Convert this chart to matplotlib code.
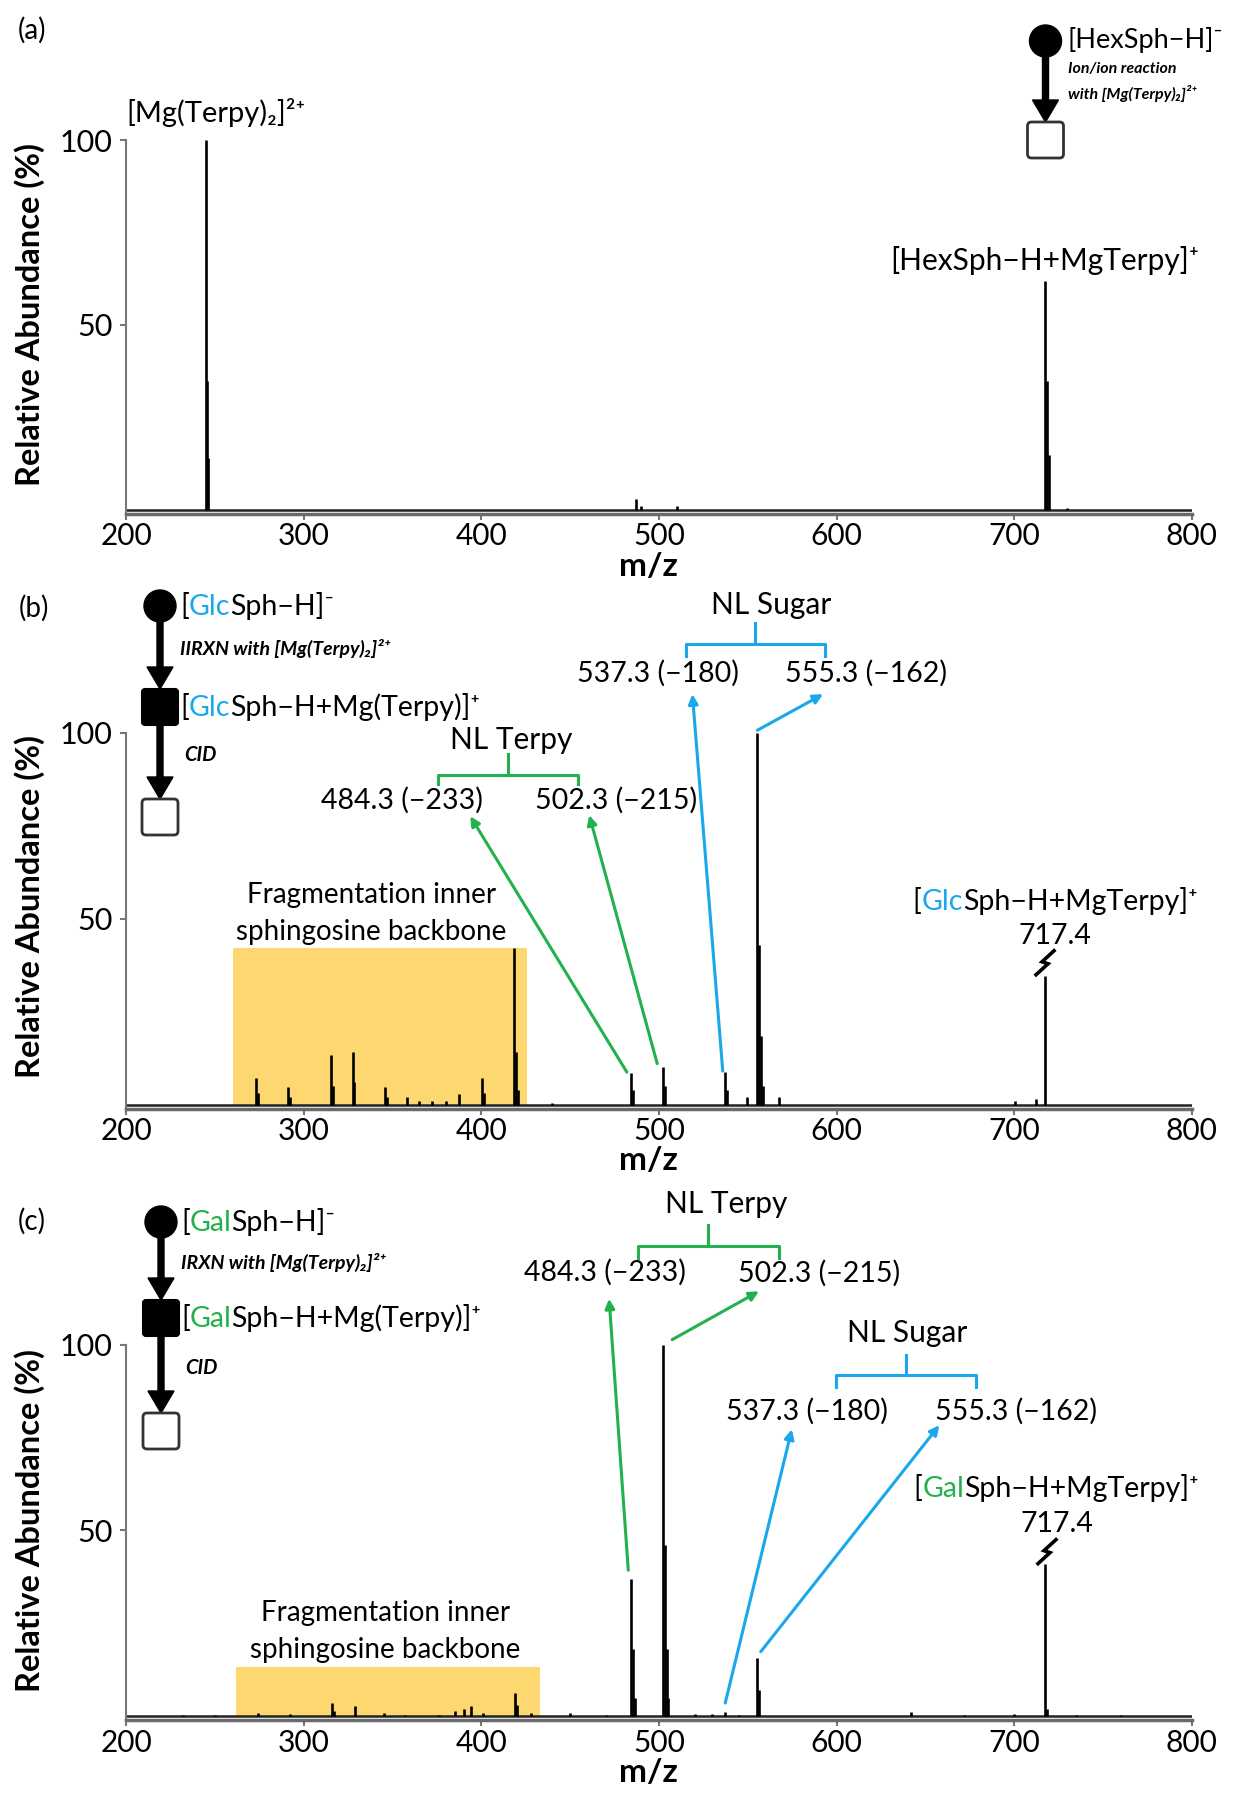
import matplotlib
matplotlib.use('Agg')
import matplotlib.pyplot as plt
from matplotlib.patches import Circle, FancyBboxPatch, FancyArrow, Rectangle
from matplotlib.transforms import IdentityTransform

plt.rcParams['font.family'] = ['Lato', 'DejaVu Sans']

BLUE = '#1AA7EC'
GREEN = '#22B14C'
GOLD = '#FDD870'

# (a) ion/ion reaction spectrum
a_mz = [245.0, 245.5, 246.0, 487.0, 490.0, 510.0, 717.4, 718.4, 719.4, 730.0]
a_int = [100, 35, 14, 3.0, 1.0, 1.2, 62, 35, 15, 0.5]

# (b) CID of [GlcSph-H+Mg(Terpy)]+
b_mz = [273.2, 274.2, 291.1, 292.1, 315.5, 316.5, 327.4, 328.4, 345.6, 346.6,
        358.0, 365.0, 372.0, 380.0, 387.6, 400.2, 401.2, 418.6, 419.6, 420.6,
        440.0, 484.3, 485.3, 502.3, 503.3, 537.3, 538.3, 549.3, 555.3, 556.3,
        557.3, 558.3, 567.3, 700.4, 712.4, 717.4]
b_int = [7.0, 3.0, 4.8, 2.0, 13.4, 5.0, 14.1, 6.0, 4.8, 2.0,
         2.0, 1.0, 1.0, 1.0, 2.8, 7.2, 3.0, 42.0, 14.0, 4.0,
         0.5, 8.5, 4.0, 10.0, 5.0, 8.8, 4.0, 2.0, 100, 43,
         18.5, 5.0, 2.0, 1.0, 1.5, 34.5]

# (c) CID of [GalSph-H+Mg(Terpy)]+
c_mz = [232, 250, 274, 292, 316, 317, 328.8, 345, 357, 376, 385, 390, 394, 401,
        419, 420, 428, 450, 470, 484.3, 485.3, 486.3, 502.3, 503.3, 504.3, 505.3,
        520, 530, 537.3, 545, 555.3, 556.3, 642, 672, 700, 717.4, 718.4, 735, 760]
c_int = [0.5, 0.5, 1.0, 0.6, 3.6, 1.5, 2.7, 0.8, 0.5, 0.5, 1.5, 2.0, 2.7, 1.0,
         6.4, 3.0, 1.0, 0.8, 0.5, 37, 18, 5, 100, 46, 18, 5,
         0.6, 0.6, 1.2, 0.5, 15.7, 7, 1.2, 0.5, 0.6, 41, 2, 0.5, 0.4]

x_ticks = [200, 300, 400, 500, 600, 700, 800]
y_ticks = [50, 100]

W, H = 1248, 1800
fig = plt.figure(figsize=(W / 100, H / 100), dpi=100)
renderer = fig.canvas.get_renderer()

X200, X800 = 126.3, 1191.7
PANELS = [(140.0, 510.0), (732.5, 1104.5), (1344.5, 1716.4)]


def make_axes(y100, y0, mz, inten):
    ppu = (y0 - y100) / 100.0
    ax = fig.add_axes([X200 / W, 1 - (y0 + 4) / H, (X800 - X200) / W, (y0 + 4 - y100) / H])
    ax.set_xlim(200, 800)
    ax.set_ylim(-4 / ppu, 100)
    for s in ['top', 'right']:
        ax.spines[s].set_visible(False)
    ax.spines['left'].set_color('#777777')
    ax.spines['left'].set_linewidth(1.5)
    ax.spines['bottom'].set_color('#6a6a6a')
    ax.spines['bottom'].set_linewidth(2.5)
    ax.set_xticks(x_ticks)
    ax.set_yticks(y_ticks)
    ax.tick_params(axis='x', length=4, width=1.5, color='#777777', labelsize=21.5, pad=2)
    ax.tick_params(axis='y', length=4, width=1.5, color='#777777', labelsize=22, pad=6)
    ax.plot([200, 800], [0, 0], color='#222222', lw=1.8, solid_capstyle='butt', zorder=2.5)
    ax.vlines(mz, 0, inten, color='black', lw=1.9, zorder=2.6)
    return ax


def color_text(ax, x, y, pieces, ha='left', transform=None, **kw):
    if transform is None:
        transform = ax.transData
    full = ''.join(s for s, _ in pieces)
    probe = ax.text(x, y, full, transform=transform, ha=ha, va='center', **kw)
    bb = probe.get_window_extent(renderer=renderer)
    probe.remove()
    t = ax.text(bb.x0, bb.y0, pieces[0][0], color=pieces[0][1], transform=IdentityTransform(),
                ha='left', va='bottom', clip_on=False, **kw)
    for s, c in pieces[1:]:
        t = ax.annotate(s, xy=(1, 0), xycoords=t, ha='left', va='bottom', color=c,
                        annotation_clip=False, **kw)


def bracket(ax, x0, x1, y, drop, rise, color):
    xm = (x0 + x1) / 2
    ax.plot([x0, x0, x1, x1], [y - drop, y, y, y - drop], color=color, lw=2.2, clip_on=False)
    ax.plot([xm, xm], [y, y + rise], color=color, lw=2.2, clip_on=False)


def arrow(ax, start, end, color):
    ax.annotate('', xy=end, xytext=start, annotation_clip=False,
                arrowprops=dict(arrowstyle='-|>', color=color, lw=2.2, mutation_scale=14,
                                shrinkA=0, shrinkB=0))


def label(ax, x, y, s, size=20.5):
    ax.text(x, y, s, ha='center', va='center', fontsize=size, clip_on=False)


axes = [make_axes(PANELS[0][0], PANELS[0][1], a_mz, a_int),
        make_axes(PANELS[1][0], PANELS[1][1], b_mz, b_int),
        make_axes(PANELS[2][0], PANELS[2][1], c_mz, c_int)]

# overlay in pixel coordinates for figure-level decorations
ov = fig.add_axes([0, 0, 1, 1])
ov.set_xlim(0, W)
ov.set_ylim(H, 0)
ov.axis('off')
ov.set_zorder(10)


def break_mark(panel, mz, pct):
    y100, y0 = PANELS[panel]
    px = X200 + (mz - 200) * (X800 - X200) / 600
    py = y0 - pct * (y0 - y100) / 100
    ov.plot([px - 9, px + 3, px - 3, px + 9], [py + 12, py + 1, py - 1, py - 12],
            color='black', lw=2.6, solid_joinstyle='miter')


for s, x, y in [('(a)', 32, 30), ('(b)', 34, 608), ('(c)', 32, 1221)]:
    ov.text(x, y, s, fontsize=20, ha='center', va='center')
for y in [314, 906, 1521]:
    ov.text(30, y, 'Relative Abundance (%)', rotation=90, fontsize=23.5, fontweight='bold',
            ha='center', va='center')
for y in [566, 1160, 1772]:
    ov.text(648, y, 'm/z', fontsize=24, fontweight='bold', ha='center', va='center')


def scheme(cx, y_circle, y_sq_empty, y_sq_filled=None):
    ov.add_patch(Circle((cx, y_circle), 16, color='black'))
    s = 36
    if y_sq_filled is not None:
        ov.add_patch(FancyArrow(cx, y_circle + 10, 0, y_sq_filled - s / 2 - y_circle - 10, width=6,
                                head_width=26, head_length=22, length_includes_head=True,
                                color='black'))
        ov.add_patch(FancyBboxPatch((cx - s / 2, y_sq_filled - s / 2), s, s,
                                    boxstyle='round,pad=0,rounding_size=3', facecolor='black',
                                    edgecolor='black', lw=1.5))
        start = y_sq_filled + s / 2 - 2
    else:
        start = y_circle + 10
    ov.add_patch(FancyArrow(cx, start, 0, y_sq_empty - s / 2 - start, width=6,
                            head_width=26, head_length=22, length_includes_head=True,
                            color='black'))
    ov.add_patch(FancyBboxPatch((cx - s / 2, y_sq_empty - s / 2), s, s,
                                boxstyle='round,pad=0,rounding_size=4', facecolor='white',
                                edgecolor='#333333', lw=2))


# ---- panel (a)
ax = axes[0]
ax.text(200, 107.4, '[Mg(Terpy)\u2082]\u00b2\u207a', ha='left', va='center', fontsize=21, clip_on=False)
label(ax, 717.4, 67.5, '[HexSph\u2212H+MgTerpy]\u207a', size=21.5)
scheme(1045.5, 41, 140)
ov.text(1068, 40, '[HexSph\u2212H]\u207b', fontsize=19.5, ha='left', va='center')
ov.text(1068, 69, 'Ion/ion reaction', fontsize=11.5, fontweight='bold', fontstyle='italic',
        ha='left', va='center')
ov.text(1068, 94, 'with [Mg(Terpy)\u2082]\u00b2\u207a', fontsize=11.5, fontweight='bold',
        fontstyle='italic', ha='left', va='center')

# ---- panel (b)
ax = axes[1]
ax.add_patch(Rectangle((260.2, 0), 425.4 - 260.2, 42, facecolor=GOLD, edgecolor='none', zorder=1))
ax.text(338, 56.3, 'Fragmentation inner', ha='center', va='center', fontsize=20, clip_on=False)
ax.text(338, 46.5, 'sphingosine backbone', ha='center', va='center', fontsize=20, clip_on=False)
label(ax, 417, 98, 'NL Terpy', size=21.5)
bracket(ax, 375.8, 454.6, 88.7, 2.6, 5.6, GREEN)
label(ax, 355.5, 81.7, '484.3 (\u2212233)')
label(ax, 476, 81.7, '502.3 (\u2212215)')
arrow(ax, (481.9, 8.7), (393.7, 77.5), GREEN)
arrow(ax, (499.0, 11.0), (460.7, 77.8), GREEN)
label(ax, 563, 134.2, 'NL Sugar', size=21.5)
bracket(ax, 515.0, 593.4, 123.8, 3.2, 5.6, BLUE)
label(ax, 499.3, 116, '537.3 (\u2212180)')
label(ax, 616.6, 116, '555.3 (\u2212162)')
arrow(ax, (535.9, 9.0), (518.8, 110.3), BLUE)
arrow(ax, (555.4, 100.6), (592.4, 110.3), BLUE)
color_text(ax, 723, 54.8, [('[', 'black'), ('Glc', BLUE), ('Sph\u2212H+MgTerpy]\u207a', 'black')],
           ha='center', fontsize=20.5)
label(ax, 723, 45.3, '717.4')
break_mark(1, 717.4, 38.1)
scheme(160, 606, 817, 707)
color_text(ov, 180, 606, [('[', 'black'), ('Glc', BLUE), ('Sph\u2212H]\u207b', 'black')], fontsize=20.5)
ov.text(180, 648, 'IIRXN with [Mg(Terpy)\u2082]\u00b2\u207a', fontsize=14, fontweight='bold',
        fontstyle='italic', ha='left', va='center')
color_text(ov, 180, 707, [('[', 'black'), ('Glc', BLUE), ('Sph\u2212H+Mg(Terpy)]\u207a', 'black')],
           fontsize=20.5)
ov.text(184, 755, 'CID', fontsize=14.5, fontweight='bold', fontstyle='italic', ha='left', va='center')

# ---- panel (c)
ax = axes[2]
ax.add_patch(Rectangle((261.8, 0), 433.0 - 261.8, 13.4, facecolor=GOLD, edgecolor='none', zorder=1))
ax.text(346, 27.7, 'Fragmentation inner', ha='center', va='center', fontsize=20, clip_on=False)
ax.text(346, 17.9, 'sphingosine backbone', ha='center', va='center', fontsize=20, clip_on=False)
label(ax, 537.7, 137.8, 'NL Terpy', size=21.5)
bracket(ax, 488.3, 567.3, 126.4, 3.1, 5.7, GREEN)
label(ax, 469.6, 119.5, '484.3 (\u2212233)')
label(ax, 590.3, 119.2, '502.3 (\u2212215)')
arrow(ax, (482.7, 39.3), (471.9, 112.3), GREEN)
arrow(ax, (507.4, 101.3), (556.3, 114.3), GREEN)
label(ax, 639.9, 103, 'NL Sugar', size=21.5)
bracket(ax, 599.9, 678.7, 91.7, 3.0, 5.5, BLUE)
label(ax, 583.5, 82.1, '537.3 (\u2212180)')
label(ax, 701.2, 82.1, '555.3 (\u2212162)')
arrow(ax, (537.3, 3.6), (574.8, 77.2), BLUE)
arrow(ax, (557.3, 17.4), (657.9, 78.3), BLUE)
color_text(ax, 723.6, 61.3, [('[', 'black'), ('Gal', GREEN), ('Sph\u2212H+MgTerpy]\u207a', 'black')],
           ha='center', fontsize=20.5)
label(ax, 724, 51.6, '717.4')
break_mark(2, 718.5, 44.3)
scheme(161, 1222, 1431, 1318)
color_text(ov, 181, 1222, [('[', 'black'), ('Gal', GREEN), ('Sph\u2212H]\u207b', 'black')], fontsize=20.5)
ov.text(181, 1263, 'IRXN with [Mg(Terpy)\u2082]\u00b2\u207a', fontsize=14, fontweight='bold',
        fontstyle='italic', ha='left', va='center')
color_text(ov, 181, 1318, [('[', 'black'), ('Gal', GREEN), ('Sph\u2212H+Mg(Terpy)]\u207a', 'black')],
           fontsize=20.5)
ov.text(185, 1368, 'CID', fontsize=14.5, fontweight='bold', fontstyle='italic', ha='left', va='center')

fig.savefig('out.png', dpi=100)
